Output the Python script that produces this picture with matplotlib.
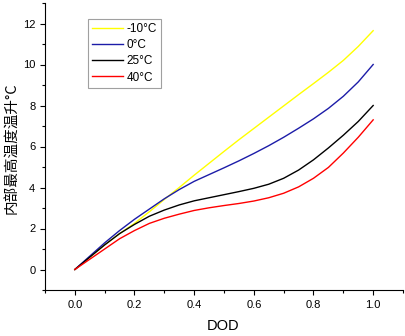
import matplotlib
matplotlib.use("Agg")
import matplotlib.pyplot as plt
from matplotlib.ticker import MultipleLocator

dod = [0.0, 0.05, 0.1, 0.15, 0.2, 0.25, 0.3, 0.35, 0.4, 0.45, 0.5,
       0.55, 0.6, 0.65, 0.7, 0.75, 0.8, 0.85, 0.9, 0.95, 1.0]
t_m10 = [0, 0.6, 1.2, 1.75, 2.25, 2.82, 3.42, 4.0, 4.6, 5.18, 5.76,
         6.33, 6.88, 7.43, 7.98, 8.53, 9.07, 9.62, 10.2, 10.88, 11.65]
t_0 = [0, 0.65, 1.3, 1.9, 2.45, 2.95, 3.45, 3.9, 4.3, 4.63, 4.96,
       5.3, 5.66, 6.04, 6.45, 6.89, 7.35, 7.86, 8.45, 9.15, 10.0]
t_25 = [0, 0.6, 1.2, 1.75, 2.2, 2.6, 2.9, 3.15, 3.35, 3.5, 3.65,
        3.8, 3.96, 4.16, 4.45, 4.85, 5.35, 5.93, 6.55, 7.22, 8.0]
t_40 = [0, 0.5, 1.0, 1.5, 1.9, 2.25, 2.5, 2.7, 2.88, 3.01, 3.12,
        3.22, 3.34, 3.5, 3.72, 4.03, 4.45, 4.98, 5.68, 6.45, 7.3]

labels = ["-10°C", "0°C", "25°C", "40°C"]
series = [t_m10, t_0, t_25, t_40]
colors = ["#FFFF00", "#1C1CA8", "#000000", "#FF0000"]

plt.rcParams['font.family'] = ['Liberation Sans', 'DejaVu Sans']

fig = plt.figure(figsize=(4.06, 3.36), dpi=100)
ax = fig.add_axes([45/406, 1-290/336, (403-45)/406, (290-3)/336])

for y, lab, c in zip(series, labels, colors):
    ax.plot(dod, y, color=c, lw=1.0, label=lab)

ax.set_xlim(-0.1, 1.1)
ax.set_ylim(-1, 13)
ax.xaxis.set_major_locator(MultipleLocator(0.2))
ax.xaxis.set_minor_locator(MultipleLocator(0.1))
ax.yaxis.set_major_locator(MultipleLocator(2))
ax.yaxis.set_minor_locator(MultipleLocator(1))
ax.xaxis.set_major_formatter(matplotlib.ticker.FormatStrFormatter('%.1f'))
ax.spines['top'].set_visible(False)
ax.spines['right'].set_visible(False)
ax.tick_params(which='major', direction='out', length=3.5, width=0.8, labelsize=8)
ax.tick_params(which='minor', direction='out', length=2, width=0.8)

fig.text(223/406, 1-326/336, "DOD", fontsize=10.5, ha='center', va='center')
fig.text(12/406, 1-148/336, "内部最高温度温升°C", fontsize=10.5,
         family=['Noto Sans CJK SC', 'DejaVu Sans'], rotation=90,
         ha='center', va='center')

leg = ax.legend(loc='upper left', bbox_to_anchor=((88-45)/358, (290-19)/287),
                fontsize=8.5, frameon=True, fancybox=False, handlelength=2.6,
                handletextpad=0.3, labelspacing=0.35, borderpad=0.35,
                borderaxespad=0)
leg.get_frame().set_edgecolor('#888888')
leg.get_frame().set_linewidth(0.8)

fig.savefig("out.png", dpi=100)
